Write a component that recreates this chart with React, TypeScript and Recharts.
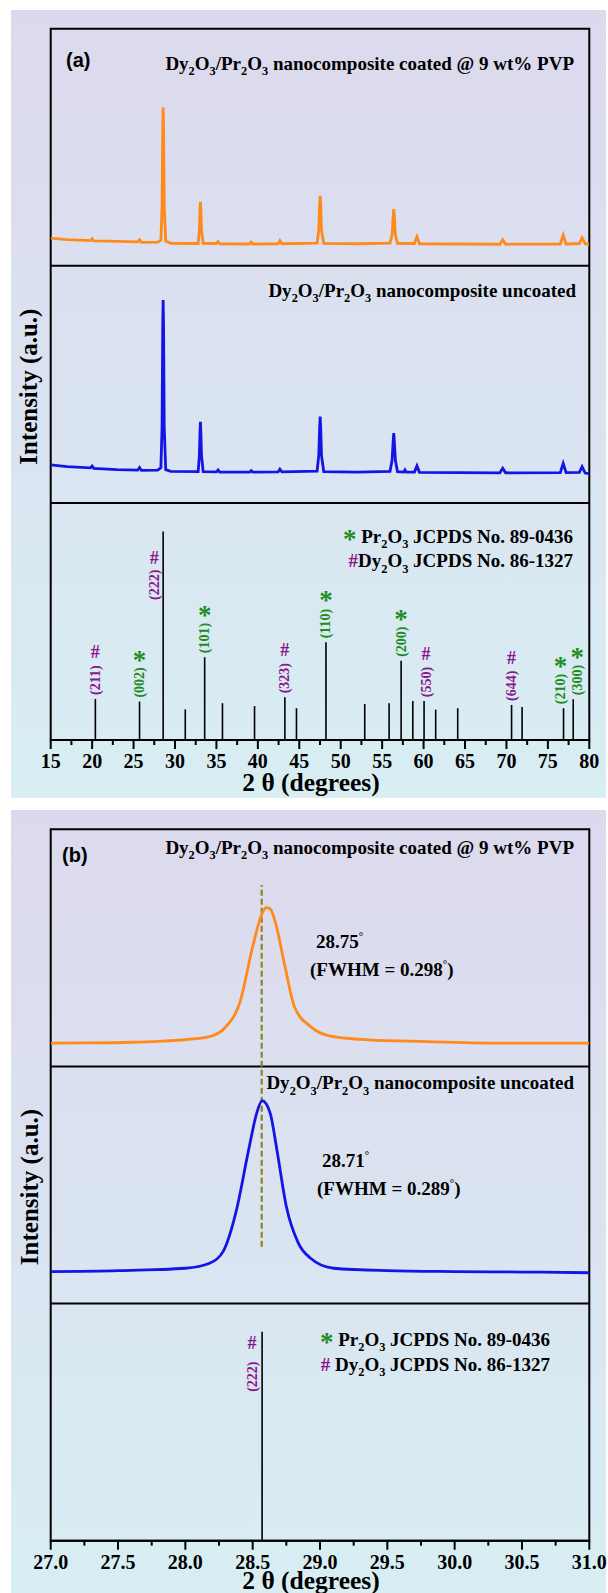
import React from "react";
import {
	ComposedChart,
	Line,
	XAxis,
	YAxis,
	ReferenceLine,
	ReferenceArea,
	Scatter,
} from "recharts";

// (a) wide scan, intensity in a.u. above each sub-panel floor (sub-panel = 100)
const coatedA: [number, number][] = [
	[15, 11.7], [17, 11.0], [19.8, 10.6], [20.0, 11.4], [20.2, 10.5], [22, 10.4], [25.5, 10.1],
	[25.72, 11.0], [25.95, 9.9], [27.9, 10.0], [28.3, 10.8], [28.44, 25], [28.52, 58], [28.57, 66.8],
	[28.62, 58], [28.7, 25], [28.88, 10.4], [29.5, 9.5], [32.8, 9.4], [32.94, 15], [33.02, 24],
	[33.07, 27.0], [33.12, 24], [33.2, 15], [33.4, 9.5], [35.0, 9.4], [35.2, 10.2], [35.4, 9.3],
	[39.0, 9.2], [39.2, 10.0], [39.4, 9.2], [42.45, 9.3], [42.66, 10.6], [42.9, 9.3], [47.15, 9.6],
	[47.35, 15], [47.46, 26], [47.52, 29.5], [47.58, 26], [47.68, 15], [47.95, 9.5], [52, 9.3],
	[55.95, 9.6], [56.2, 13], [56.33, 21], [56.4, 23.9], [56.47, 21], [56.6, 13], [56.85, 9.5],
	[58.9, 9.4], [59.2, 12.2], [59.5, 9.3], [69.2, 9.1], [69.55, 11.0], [69.9, 9.1], [76.5, 9.2],
	[76.85, 13.0], [77.2, 9.2], [78.8, 9.4], [79.13, 11.8], [79.5, 9.3], [80, 9.0],
];
const uncoatedA: [number, number][] = [
	[15, 16.0], [17, 15.3], [19.8, 14.8], [20.0, 15.6], [20.2, 14.6], [23, 14.0], [25.5, 13.8],
	[25.72, 14.9], [25.95, 13.7], [27.9, 13.8], [28.3, 14.8], [28.44, 32], [28.52, 75], [28.57, 85.6],
	[28.62, 75], [28.7, 32], [28.88, 14], [29.5, 13.3], [32.8, 13.2], [32.94, 20], [33.02, 30],
	[33.07, 34.2], [33.12, 30], [33.2, 20], [33.4, 13.2], [35.0, 13.1], [35.2, 13.9], [35.4, 13.0],
	[39.0, 13.0], [39.2, 13.6], [39.4, 13.0], [42.45, 13.1], [42.66, 14.2], [42.9, 13.1], [47.15, 13.4],
	[47.35, 20], [47.46, 32], [47.52, 36.4], [47.58, 32], [47.68, 20], [47.95, 13.2], [52, 13.0],
	[55.95, 13.3], [56.2, 18], [56.33, 26], [56.4, 29.4], [56.47, 26], [56.6, 18], [56.85, 13.2],
	[57.6, 13.0], [57.75, 13.9], [57.9, 13.0], [58.9, 13.0], [59.2, 15.6], [59.5, 12.9], [69.2, 12.7],
	[69.55, 14.6], [69.9, 12.7], [76.5, 12.8], [76.85, 16.7], [77.2, 12.8], [78.8, 12.9], [79.13, 15.3],
	[79.5, 12.6], [80, 12.4],
];

// JCPDS reference sticks
const refAngleA = [20.39, 25.72, 28.57, 31.24, 33.58, 35.73, 39.6, 43.26, 44.66, 48.22, 52.9, 55.84, 57.29, 58.7, 60.06, 61.46, 64.12, 70.62, 71.89, 76.89, 78.06];
const refHeightA = [17.3, 16.2, 87.9, 12.9, 34.9, 15.5, 14.3, 18.0, 13.4, 41.2, 15.2, 15.5, 33.4, 16.4, 16.4, 12.8, 13.4, 14.8, 13.9, 13.4, 17.2];
const refHklA = ["(211)", "(002)", "(222)", "", "(101)", "", "", "(323)", "", "(110)", "", "", "(200)", "", "(550)", "", "", "(644)", "", "(210)", "(300)"];
const refPhaseA = ["Dy", "Pr", "Dy", "", "Pr", "", "", "Dy", "", "Pr", "", "", "Pr", "", "Dy", "", "", "Dy", "", "Pr", "Pr"];

// (b) zoom on the (222) reflection
const coatedB: [number, number][] = [
	[27.0, 9.8], [27.3, 9.9], [27.6, 10.2], [27.8, 10.6], [28.0, 11.3], [28.18, 12.6], [28.29, 16.1],
	[28.41, 28.0], [28.5, 50.5], [28.57, 64.5], [28.6, 67.0], [28.63, 66.5], [28.67, 60.4], [28.74, 42.1],
	[28.81, 25.2], [28.93, 16.8], [29.07, 12.9], [29.36, 11.2], [29.79, 10.5], [30.37, 9.8], [31.0, 9.8],
];
const uncoatedB: [number, number][] = [
	[27.0, 13.5], [27.5, 13.9], [28.0, 14.9], [28.18, 17.0], [28.28, 21.9], [28.38, 39.5], [28.47, 64.8],
	[28.53, 80.3], [28.57, 85.6], [28.63, 80.3], [28.68, 64.8], [28.75, 40.9], [28.84, 25.4], [28.93, 19.1],
	[29.1, 14.9], [29.5, 13.9], [30.0, 13.5], [30.5, 13.3], [31.0, 13.0],
];
const refAngleB = [28.57];
const refHeightB = [88.1];
const refHklB = ["(222)"];
const refPhaseB = ["Dy"];
const peakLine = 28.567;

const ticksA = [15, 17.5, 20, 22.5, 25, 27.5, 30, 32.5, 35, 37.5, 40, 42.5, 45, 47.5, 50, 52.5, 55, 57.5, 60, 62.5, 65, 67.5, 70, 72.5, 75, 77.5, 80];
const majorA = [15, 20, 25, 30, 35, 40, 45, 50, 55, 60, 65, 70, 75, 80];
const ticksB = [27, 27.25, 27.5, 27.75, 28, 28.25, 28.5, 28.75, 29, 29.25, 29.5, 29.75, 30, 30.25, 30.5, 30.75, 31];
const majorB = [27, 27.5, 28, 28.5, 29, 29.5, 30, 30.5, 31];

const SERIF = "'Liberation Serif', 'Times New Roman', serif";
const ORANGE = "#ff8a1c";
const BLUE = "#1414e6";
const GREEN = "#1e8c1e";
const PURPLE = "#8c148c";
const labelShift: Record<string, number> = { "(210)": -3, "(300)": 4, "(550)": 2 };

const rows = (pts: [number, number][], offset: number) => pts.map(([x, v]) => ({ x, y: v + offset }));
const sticks = (angles: number[], heights: number[], hkl: string[], phase: string[]) =>
	angles.map((x, i) => ({ x, y: heights[i], hkl: hkl[i], phase: phase[i] }));

const makeTick = (majors: number[], digits: number) => (props: any) => {
	const { x, y, payload } = props;
	const major = majors.includes(payload.value);
	return (
		<g>
			<line x1={x} x2={x} y1={y} y2={y + (major ? 9 : 5)} stroke="#000" strokeWidth={2} />
			{major && (
				<text x={x} y={y + 28} textAnchor="middle" fontFamily={SERIF} fontWeight="bold" fontSize={20} fill="#000">
					{payload.value.toFixed(digits)}
				</text>
			)}
		</g>
	);
};

type Beside = { dx: number; symDy: number; textDy: number };

const makeStickLabel = (beside: Beside) => (props: any) => {
	const { cx, cy, payload } = props;
	if (!payload || !payload.hkl) return <g />;
	const isPr = payload.phase === "Pr";
	const color = isPr ? GREEN : PURPLE;
	const next = payload.hkl === "(222)";
	const ax = cx + (next ? beside.dx : labelShift[payload.hkl] ?? 0);
	const textBottom = next ? cy + beside.textDy : cy - 4;
	const symY = next ? cy + beside.symDy : cy - 47;
	return (
		<g>
			<text
				x={ax}
				y={textBottom}
				transform={`rotate(-90 ${ax} ${textBottom})`}
				textAnchor="start"
				dominantBaseline="central"
				fontFamily={SERIF}
				fontWeight="bold"
				fontSize={14}
				fill={color}
			>
				{payload.hkl}
			</text>
			<text
				x={ax}
				y={symY + (isPr ? 5 : 0)}
				textAnchor="middle"
				dominantBaseline="central"
				fontFamily={SERIF}
				fontWeight="bold"
				fontSize={isPr ? 27 : 18}
				fill={color}
			>
				{isPr ? "*" : "#"}
			</text>
		</g>
	);
};

// chemical formula with _2 style subscripts
const Chem = ({ s, size }: { s: string; size: number }) => {
	const parts = s.split(/(_\d)/).filter(Boolean);
	const shift = size * 0.28;
	let low = false;
	return (
		<>
			{parts.map((p, i) => {
				if (p.startsWith("_")) {
					const el = (
						<tspan key={i} fontSize={size * 0.65} dy={low ? 0 : shift}>
							{p.slice(1)}
						</tspan>
					);
					low = true;
					return el;
				}
				const el = (
					<tspan key={i} dy={low ? -shift : 0}>
						{p}
					</tspan>
				);
				low = false;
				return el;
			})}
		</>
	);
};

const T = (p: { x: number; y: number; anchor?: string; size?: number; children: React.ReactNode; family?: string }) => (
	<text
		x={p.x}
		y={p.y}
		textAnchor={(p.anchor as any) ?? "start"}
		fontFamily={p.family ?? SERIF}
		fontWeight="bold"
		fontSize={p.size ?? 19}
		fill="#000"
	>
		{p.children}
	</text>
);

const Degree = ({ text }: { text: string }) => (
	<>
		<tspan>{text}</tspan>
		<tspan fontSize={11} dy={-8}>°</tspan>
	</>
);

const Panel = ({
	width,
	height,
	margin,
	domain,
	ticks,
	majors,
	digits,
	top,
	mid,
	ref,
	curve,
	beside,
	dashed,
}: any) => (
	<ComposedChart width={width} height={height} margin={margin}>
		<XAxis
			type="number"
			dataKey="x"
			domain={domain}
			allowDataOverflow
			ticks={ticks}
			interval={0}
			height={40}
			tickSize={0}
			tickMargin={0}
			tickLine={false}
			axisLine={{ stroke: "#000", strokeWidth: 2 }}
			tick={makeTick(majors, digits)}
		/>
		<YAxis type="number" dataKey="y" domain={[0, 300]} allowDataOverflow hide />
		<ReferenceArea x1={domain[0]} x2={domain[1]} y1={0} y2={300} fill="none" stroke="#000" strokeWidth={2} ifOverflow="visible" />
		<ReferenceLine y={100} stroke="#000" strokeWidth={2} />
		<ReferenceLine y={200} stroke="#000" strokeWidth={2} />
		{ref.map((s: any) => (
			<ReferenceLine
				key={s.x}
				segment={[
					{ x: s.x, y: 0 },
					{ x: s.x, y: s.y },
				]}
				stroke="#000"
				strokeWidth={1.6}
			/>
		))}
		{dashed && (
			<ReferenceLine
				segment={[
					{ x: dashed, y: 124 },
					{ x: dashed, y: 276.5 },
				]}
				stroke="#8f8420"
				strokeWidth={2.2}
				strokeDasharray="6 3"
			/>
		)}
		<Line data={top} dataKey="y" type={curve} stroke={ORANGE} strokeWidth={2.8} dot={false} isAnimationActive={false} />
		<Line data={mid} dataKey="y" type={curve} stroke={BLUE} strokeWidth={2.8} dot={false} isAnimationActive={false} />
		<Scatter data={ref} dataKey="y" shape={makeStickLabel(beside)} isAnimationActive={false} />
	</ComposedChart>
);

const App = (): JSX.Element => {
	const bg = "linear-gradient(180deg, #dcd9ed 0%, #dae3f0 50%, #d8eef3 100%)";
	return (
		<div style={{ position: "absolute", left: 0, top: 0, width: 608, height: 1593, background: "#fff", overflow: "hidden" }}>
			<div style={{ position: "absolute", left: 11, top: 10, width: 595, height: 788, background: bg }} />
			<div style={{ position: "absolute", left: 11, top: 810, width: 595, height: 783, background: bg }} />
			<div style={{ position: "absolute", left: 0, top: 0 }}>
				<Panel
					width={608}
					height={800}
					margin={{ top: 28.7, right: 18.7, bottom: 20, left: 50.7 }}
					domain={[15, 80]}
					ticks={ticksA}
					majors={majorA}
					digits={0}
					top={rows(coatedA, 200)}
					mid={rows(uncoatedA, 100)}
					ref={sticks(refAngleA, refHeightA, refHklA, refPhaseA)}
					curve="linear"
					beside={{ dx: -9, symDy: 26.6, textDy: 68.3 }}
				/>
			</div>
			<div style={{ position: "absolute", left: 0, top: 800 }}>
				<Panel
					width={608}
					height={793}
					margin={{ top: 29.3, right: 18.7, bottom: 12.3, left: 50.7 }}
					domain={[27, 31]}
					ticks={ticksB}
					majors={majorB}
					digits={1}
					top={rows(coatedB, 200)}
					mid={rows(uncoatedB, 100)}
					ref={sticks(refAngleB, refHeightB, refHklB, refPhaseB)}
					curve="monotone"
					beside={{ dx: -10, symDy: 11.6, textDy: 60 }}
					dashed={peakLine}
				/>
			</div>
			<svg width={608} height={1593} style={{ position: "absolute", left: 0, top: 0, pointerEvents: "none" }}>
				{/* panel (a) */}
				<T x={66} y={67} size={20} family="'Liberation Sans', Arial, sans-serif">(a)</T>
				<T x={574} y={70} anchor="end">
					<Chem s="Dy_2O_3/Pr_2O_3 nanocomposite coated @ 9 wt% PVP" size={19} />
				</T>
				<T x={576} y={296.7} anchor="end">
					<Chem s="Dy_2O_3/Pr_2O_3 nanocomposite uncoated" size={19} />
				</T>
				<T x={573} y={542.7} anchor="end">
					<tspan fill={GREEN} fontSize={27} dy={5}>*</tspan>
					<tspan dy={-5}> </tspan>
					<Chem s="Pr_2O_3 JCPDS No. 89-0436" size={19} />
				</T>
				<T x={573} y={567.3} anchor="end">
					<tspan fill={PURPLE} fontSize={19}>#</tspan>
					<Chem s="Dy_2O_3 JCPDS No. 86-1327" size={19} />
				</T>
				<text x={37.5} y={386.7} transform="rotate(-90 37.5 386.7)" textAnchor="middle" fontFamily={SERIF} fontWeight="bold" fontSize={25}>
					Intensity (a.u.)
				</text>
				<T x={311} y={791} anchor="middle" size={25.5}>2 θ (degrees)</T>

				{/* panel (b) */}
				<T x={62} y={862} size={20} family="'Liberation Sans', Arial, sans-serif">(b)</T>
				<T x={574} y={854} anchor="end">
					<Chem s="Dy_2O_3/Pr_2O_3 nanocomposite coated @ 9 wt% PVP" size={19} />
				</T>
				<T x={574} y={1089.3} anchor="end">
					<Chem s="Dy_2O_3/Pr_2O_3 nanocomposite uncoated" size={19} />
				</T>
				<T x={316} y={948.3}>
					<Degree text="28.75" />
				</T>
				<T x={310} y={976}>
					<tspan>(FWHM = 0.298</tspan>
					<tspan fontSize={11} dy={-8}>°</tspan>
					<tspan dy={8}>)</tspan>
				</T>
				<T x={322} y={1167.3}>
					<Degree text="28.71" />
				</T>
				<T x={317} y={1195}>
					<tspan>(FWHM = 0.289</tspan>
					<tspan fontSize={11} dy={-8}>°</tspan>
					<tspan dy={8}>)</tspan>
				</T>
				<T x={550} y={1345.7} anchor="end">
					<tspan fill={GREEN} fontSize={27} dy={5}>*</tspan>
					<tspan dy={-5}> </tspan>
					<Chem s="Pr_2O_3 JCPDS No. 89-0436" size={19} />
				</T>
				<T x={550} y={1370.7} anchor="end">
					<tspan fill={PURPLE} fontSize={19}>#</tspan>
					<tspan> </tspan>
					<Chem s="Dy_2O_3 JCPDS No. 86-1327" size={19} />
				</T>
				<text x={37.5} y={1187} transform="rotate(-90 37.5 1187)" textAnchor="middle" fontFamily={SERIF} fontWeight="bold" fontSize={25}>
					Intensity (a.u.)
				</text>
				<T x={311} y={1589} anchor="middle" size={25.5}>2 θ (degrees)</T>
			</svg>
		</div>
	);
};

export default App;
